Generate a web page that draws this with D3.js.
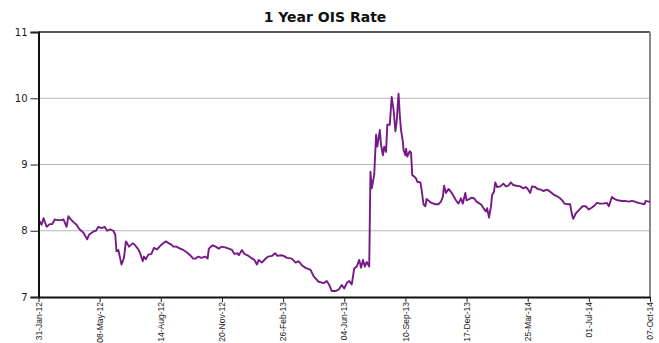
<!DOCTYPE html>
<html>
<head>
<meta charset="utf-8">
<script src="https://cdn.jsdelivr.net/npm/d3@7"></script>
<style>
  html, body { margin: 0; padding: 0; background: #ffffff; }
  svg { display: block; }
</style>
</head>
<body>
<svg id="chart" width="659" height="343"></svg>
<script>
// 1 Year OIS Rate, Jan 2012 - Oct 2014
const title = "1 Year OIS Rate";

const dates = [
  "2012-01-31","2012-02-02","2012-02-05","2012-02-08","2012-02-13","2012-02-18","2012-02-22","2012-02-26",
  "2012-03-02","2012-03-08","2012-03-11","2012-03-16","2012-03-19","2012-03-21","2012-03-27","2012-04-01",
  "2012-04-05","2012-04-12","2012-04-18","2012-04-21","2012-04-28","2012-05-02","2012-05-06","2012-05-11",
  "2012-05-16","2012-05-20","2012-05-25","2012-05-30","2012-06-02","2012-06-04","2012-06-07","2012-06-09",
  "2012-06-12","2012-06-16","2012-06-19","2012-06-21","2012-06-24","2012-06-30","2012-07-03","2012-07-09",
  "2012-07-12","2012-07-16","2012-07-18","2012-07-21","2012-07-25","2012-07-30","2012-08-03","2012-08-08",
  "2012-08-15","2012-08-22","2012-08-27","2012-08-31","2012-09-03","2012-09-08","2012-09-14","2012-09-19",
  "2012-09-24","2012-09-30","2012-10-05","2012-10-09","2012-10-13","2012-10-18","2012-10-24","2012-10-28",
  "2012-10-30","2012-11-05","2012-11-10","2012-11-15","2012-11-19","2012-11-25","2012-12-01","2012-12-06",
  "2012-12-10","2012-12-15","2012-12-17","2012-12-22","2012-12-26","2012-12-31","2013-01-06","2013-01-11",
  "2013-01-15","2013-01-18","2013-01-23","2013-01-28","2013-02-02","2013-02-08","2013-02-13","2013-02-17",
  "2013-02-23","2013-02-27","2013-03-04","2013-03-12","2013-03-18","2013-03-23","2013-03-28","2013-04-03",
  "2013-04-11","2013-04-16","2013-04-24","2013-05-02","2013-05-07","2013-05-11","2013-05-15","2013-05-21",
  "2013-05-26","2013-05-31","2013-06-04","2013-06-08","2013-06-12","2013-06-16","2013-06-20","2013-06-24",
  "2013-06-28","2013-07-01","2013-07-04","2013-07-07","2013-07-10","2013-07-14","2013-07-16","2013-07-18",
  "2013-07-22","2013-07-25","2013-07-27","2013-07-31","2013-08-02","2013-08-05","2013-08-07","2013-08-10",
  "2013-08-12","2013-08-16","2013-08-19","2013-08-22","2013-08-25","2013-08-27","2013-08-30","2013-09-01",
  "2013-09-03","2013-09-06","2013-09-07","2013-09-10","2013-09-11","2013-09-13","2013-09-17","2013-09-19",
  "2013-09-21","2013-09-24","2013-09-27","2013-09-29","2013-10-04","2013-10-06","2013-10-09","2013-10-12",
  "2013-10-14","2013-10-19","2013-10-22","2013-10-28","2013-11-02","2013-11-06","2013-11-09","2013-11-11",
  "2013-11-14","2013-11-18","2013-11-21","2013-11-24","2013-11-27","2013-11-30","2013-12-04","2013-12-08",
  "2013-12-11","2013-12-15","2013-12-17","2013-12-22","2013-12-25","2013-12-29","2014-01-02","2014-01-07",
  "2014-01-10","2014-01-14","2014-01-17","2014-01-19","2014-01-22","2014-01-25","2014-01-27","2014-01-30",
  "2014-02-01","2014-02-04","2014-02-09","2014-02-14","2014-02-18","2014-02-22","2014-02-26","2014-03-02",
  "2014-03-07","2014-03-13","2014-03-18","2014-03-22","2014-03-25","2014-03-29","2014-04-01","2014-04-06",
  "2014-04-10","2014-04-15","2014-04-19","2014-04-25","2014-04-30","2014-05-05","2014-05-11","2014-05-16",
  "2014-05-20","2014-05-23","2014-05-28","2014-06-01","2014-06-04","2014-06-06","2014-06-10","2014-06-15",
  "2014-06-21","2014-06-26","2014-07-01","2014-07-06","2014-07-11","2014-07-14","2014-07-19","2014-07-24",
  "2014-07-30","2014-08-02","2014-08-07","2014-08-11","2014-08-16","2014-08-23","2014-08-28","2014-09-03",
  "2014-09-08","2014-09-13","2014-09-18","2014-09-24","2014-09-28","2014-09-30","2014-10-05","2014-10-07"
];

const rates = [
  8.12, 8.14, 8.09, 8.19, 8.06, 8.10, 8.10, 8.17,
  8.16, 8.16, 8.17, 8.06, 8.22, 8.19, 8.13, 8.09,
  8.03, 7.97, 7.87, 7.94, 7.99, 8.00, 8.06, 8.04,
  8.06, 8.00, 8.02, 8.00, 7.94, 7.69, 7.71, 7.62,
  7.49, 7.59, 7.84, 7.81, 7.76, 7.81, 7.79, 7.72,
  7.66, 7.54, 7.61, 7.57, 7.64, 7.65, 7.74, 7.72,
  7.79, 7.84, 7.81, 7.79, 7.76, 7.76, 7.73, 7.71,
  7.68, 7.63, 7.58, 7.58, 7.61, 7.59, 7.61, 7.58,
  7.73, 7.78, 7.76, 7.73, 7.76, 7.75, 7.73, 7.71,
  7.65, 7.66, 7.63, 7.71, 7.65, 7.63, 7.59, 7.56,
  7.49, 7.56, 7.52, 7.57, 7.61, 7.62, 7.66, 7.62,
  7.63, 7.62, 7.59, 7.58, 7.52, 7.54, 7.48, 7.44,
  7.41, 7.31, 7.23, 7.21, 7.24, 7.18, 7.09, 7.09,
  7.11, 7.18, 7.13, 7.21, 7.24, 7.19, 7.43, 7.46,
  7.56, 7.44, 7.56, 7.46, 7.53, 7.46, 8.89, 8.64,
  8.84, 9.45, 9.27, 9.52, 9.29, 9.14, 9.27, 9.19,
  9.60, 9.60, 10.02, 9.83, 9.50, 9.65, 10.07, 9.75,
  9.52, 9.34, 9.22, 9.14, 9.24, 9.12, 9.20, 9.18,
  8.84, 8.82, 8.79, 8.74, 8.73, 8.62, 8.40, 8.37,
  8.48, 8.44, 8.42, 8.40, 8.40, 8.44, 8.51, 8.68,
  8.57, 8.63, 8.60, 8.56, 8.51, 8.46, 8.41, 8.49,
  8.41, 8.57, 8.46, 8.48, 8.50, 8.49, 8.44, 8.41,
  8.39, 8.33, 8.29, 8.34, 8.20, 8.36, 8.54, 8.59,
  8.73, 8.66, 8.67, 8.71, 8.67, 8.68, 8.73, 8.69,
  8.68, 8.67, 8.64, 8.66, 8.63, 8.57, 8.67, 8.66,
  8.63, 8.62, 8.60, 8.62, 8.59, 8.55, 8.52, 8.49,
  8.45, 8.41, 8.40, 8.40, 8.24, 8.18, 8.26, 8.31,
  8.37, 8.37, 8.32, 8.35, 8.39, 8.42, 8.41, 8.41,
  8.42, 8.37, 8.51, 8.48, 8.46, 8.45, 8.45, 8.44,
  8.45, 8.44, 8.42, 8.41, 8.40, 8.45, 8.44, 8.44
];

const tickDates = [
  "2012-01-31","2012-05-08","2012-08-14","2012-11-20","2013-02-26","2013-06-04",
  "2013-09-10","2013-12-17","2014-03-25","2014-07-01","2014-10-07"
];
const yTicks = [7, 8, 9, 10, 11];

const parse = d3.timeParse("%Y-%m-%d");
const fmt = d3.timeFormat("%d-%b-%y");
const series = dates.map((d, i) => ({ date: parse(d), value: rates[i] }));

const margin = { left: 38.5, right: 650, top: 32, bottom: 297 };
const svg = d3.select("#chart");

const x = d3.scaleTime()
  .domain([parse(tickDates[0]), parse(tickDates[tickDates.length - 1])])
  .range([margin.left, margin.right]);
const y = d3.scaleLinear().domain([7, 11]).range([margin.bottom, margin.top]);

// horizontal gridlines
svg.append("g")
  .selectAll("line")
  .data(yTicks.filter(v => v > 7 && v < 11))
  .join("line")
  .attr("x1", margin.left).attr("x2", margin.right)
  .attr("y1", d => y(d)).attr("y2", d => y(d))
  .attr("stroke", "#b4b8bc").attr("stroke-width", 1);

// top border and right border
svg.append("line")
  .attr("x1", margin.left).attr("x2", margin.right)
  .attr("y1", y(11)).attr("y2", y(11))
  .attr("stroke", "#222").attr("stroke-width", 1.5);
svg.append("line")
  .attr("x1", margin.right).attr("x2", margin.right)
  .attr("y1", y(11)).attr("y2", margin.bottom)
  .attr("stroke", "#8a8a8a").attr("stroke-width", 2);

// rate line
svg.append("path")
  .datum(series)
  .attr("fill", "none")
  .attr("stroke", "#761a86")
  .attr("stroke-width", 1.9)
  .attr("stroke-linejoin", "round")
  .attr("d", d3.line().x(d => x(d.date)).y(d => y(d.value)));

// y axis
const yAxis = svg.append("g")
  .attr("transform", `translate(${margin.left},0)`)
  .call(d3.axisLeft(y).tickValues(yTicks).tickSize(8).tickPadding(3).tickFormat(d3.format("d")));
yAxis.select(".domain").attr("stroke", "#111").attr("stroke-width", 2);
yAxis.selectAll(".tick line").attr("stroke", "#222");
yAxis.selectAll("text")
  .attr("font-family", "DejaVu Sans, Verdana, sans-serif")
  .attr("font-size", 10)
  .attr("fill", "#1a1a1a");

// x axis: rotated date labels sized to sit within the bottom margin
const xAxis = svg.append("g")
  .attr("transform", `translate(0,${margin.bottom})`)
  .call(d3.axisBottom(x).tickValues(tickDates.map(parse)).tickSize(5).tickSizeOuter(0).tickFormat(fmt));
xAxis.select(".domain").attr("stroke", "#111").attr("stroke-width", 2);
xAxis.selectAll(".tick line").attr("stroke", "#222");
xAxis.selectAll("text")
  .attr("font-family", "Liberation Sans, Arial, sans-serif")
  .attr("font-size", 8.5)
  .attr("fill", "#1a1a1a")
  .attr("transform", "rotate(-90)")
  .attr("text-anchor", "end")
  .attr("dy", "0.32em")
  .attr("x", -5)
  .attr("y", 0);

// title
svg.append("text")
  .attr("x", 325).attr("y", 22)
  .attr("text-anchor", "middle")
  .attr("font-family", "DejaVu Sans, Verdana, sans-serif")
  .attr("font-weight", "bold")
  .attr("font-size", 14)
  .attr("fill", "#111")
  .text(title);
</script>
</body>
</html>
